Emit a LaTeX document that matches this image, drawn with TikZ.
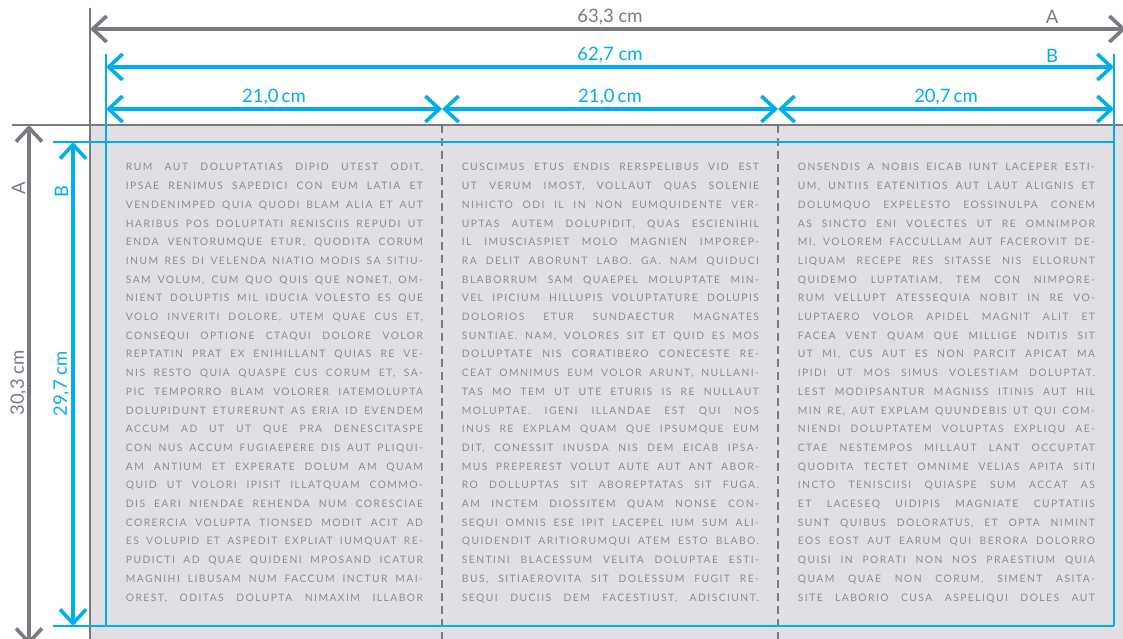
\documentclass[tikz,border=0pt]{standalone}
\usepackage{fontspec}
\setmainfont{Lato}
\newfontfamily\bodyfont[LetterSpace=14]{Lato}
\usetikzlibrary{arrows.meta}
\definecolor{pagegray}{RGB}{225,223,228}
\definecolor{linegray}{RGB}{122,122,128}
\definecolor{dimblue}{RGB}{0,174,239}
\definecolor{textgray}{RGB}{142,141,147}
\newlength\colw
\setlength\colw{297pt}
\newcommand\jl[1]{\noindent\hbox to \colw{\spaceskip=3pt plus 1fill\relax #1}\par}
\tikzset{
  dimline/.style={line width=3.6pt,{Straight Barb[length=14pt,width=26pt]}-{Straight Barb[length=14pt,width=26pt]}},
  extgray/.style={line width=2.4pt,draw=linegray},
  extblue/.style={line width=2pt,draw=dimblue},
  foldline/.style={line width=2pt,draw=linegray,dash pattern=on 8pt off 5pt},
  coltext/.style={anchor=north west,inner sep=0pt,text width=\colw,font=\bodyfont\fontsize{10.3}{18.7}\selectfont,text=textgray},
  dimlabel/.style={inner sep=0pt,font=\fontsize{18.5}{20}\selectfont}
}
\begin{document}
\begin{tikzpicture}[x=1pt,y=-1pt]
\clip (0,0) rectangle (1123,639);
% page
\fill[pagegray] (90,125) rectangle (1130,650);
% fold lines
\coordinate (f1t) at (442,125); \coordinate (f1b) at (442,645);
\coordinate (f2t) at (778,125); \coordinate (f2b) at (778,645);
\draw[foldline] (f1t) -- (f1b);
\draw[foldline] (f2t) -- (f2b);
% gray extension lines
\coordinate (gh1) at (12,125); \coordinate (gh2) at (1130,125);
\coordinate (gv1) at (90,8); \coordinate (gv2) at (90,645);
\draw[extgray] (gh1) -- (gh2);
\draw[extgray] (gv1) -- (gv2);
% blue extension / trim lines
\coordinate (bt1) at (53,142); \coordinate (bt2) at (1114,142);
\coordinate (bb1) at (53,626); \coordinate (bb2) at (1114,626);
\coordinate (bl1) at (106,54); \coordinate (bl2) at (106,626);
\coordinate (br1) at (1114,54); \coordinate (br2) at (1114,626);
\draw[extblue] (bt1) -- (bt2);
\draw[extblue] (bb1) -- (bb2);
\draw[extblue] (bl1) -- (bl2);
\draw[extblue] (br1) -- (br2);
% dimension arrows
\coordinate (aL) at (90,29); \coordinate (aR) at (1126,29);
\draw[dimline,draw=linegray] (aL) -- (aR);
\coordinate (bL) at (106,67); \coordinate (bR) at (1114,67);
\draw[dimline,draw=dimblue] (bL) -- (bR);
\coordinate (c0) at (106,109); \coordinate (c1) at (442,109);
\coordinate (c2) at (778,109); \coordinate (c3) at (1114,109);
\draw[dimline,draw=dimblue] (c0) -- (c1);
\draw[dimline,draw=dimblue] (c1) -- (c2);
\draw[dimline,draw=dimblue] (c2) -- (c3);
\coordinate (vAt) at (29,125); \coordinate (vAb) at (29,645);
\draw[dimline,draw=linegray] (vAt) -- (vAb);
\coordinate (vBt) at (73,142); \coordinate (vBb) at (73,626);
\draw[dimline,draw=dimblue] (vBt) -- (vBb);
% labels
\node[dimlabel,text=linegray] (lw1) at (610,17) {63,3 cm};
\node[dimlabel,text=linegray] (lwA) at (1052,17) {A};
\node[dimlabel,text=dimblue] (lw2) at (610,55) {62,7 cm};
\node[dimlabel,text=dimblue] (lwB) at (1052,56) {B};
\node[dimlabel,text=dimblue] (lp1) at (274,97) {21,0\,cm};
\node[dimlabel,text=dimblue] (lp2) at (610,97) {21,0\,cm};
\node[dimlabel,text=dimblue] (lp3) at (946,97) {20,7\,cm};
\node[dimlabel,text=linegray,rotate=90] (lhA) at (18.5,188) {A};
\node[dimlabel,text=linegray,rotate=90] (lh1) at (18.5,383) {30,3 cm};
\node[dimlabel,text=dimblue,rotate=90] (lhB) at (61.5,192) {B};
\node[dimlabel,text=dimblue,rotate=90] (lh2) at (61.5,384) {29,7 cm};
% text columns
\node[coltext] (col1) at (125.7,163.3) {%
\jl{RUM AUT DOLUPTATIAS DIPID UTEST ODIT,}
\jl{IPSAE RENIMUS SAPEDICI CON EUM LATIA ET}
\jl{VENDENIMPED QUIA QUODI BLAM ALIA ET AUT}
\jl{HARIBUS POS DOLUPTATI RENISCIIS REPUDI UT}
\jl{ENDA VENTORUMQUE ETUR, QUODITA CORUM}
\jl{INUM RES DI VELENDA NIATIO MODIS SA SITIU-}
\jl{SAM VOLUM, CUM QUO QUIS QUE NONET, OM-}
\jl{NIENT DOLUPTIS MIL IDUCIA VOLESTO ES QUE}
\jl{VOLO INVERITI DOLORE, UTEM QUAE CUS ET,}
\jl{CONSEQUI OPTIONE CTAQUI DOLORE VOLOR}
\jl{REPTATIN PRAT EX ENIHILLANT QUIAS RE VE-}
\jl{NIS RESTO QUIA QUASPE CUS CORUM ET, SA-}
\jl{PIC TEMPORRO BLAM VOLORER IATEMOLUPTA}
\jl{DOLUPIDUNT ETURERUNT AS ERIA ID EVENDEM}
\jl{ACCUM AD UT UT QUE PRA DENESCITASPE}
\jl{CON NUS ACCUM FUGIAEPERE DIS AUT PLIQUI-}
\jl{AM ANTIUM ET EXPERATE DOLUM AM QUAM}
\jl{QUID UT VOLORI IPISIT ILLATQUAM COMMO-}
\jl{DIS EARI NIENDAE REHENDA NUM CORESCIAE}
\jl{CORERCIA VOLUPTA TIONSED MODIT ACIT AD}
\jl{ES VOLUPID ET ASPEDIT EXPLIAT IUMQUAT RE-}
\jl{PUDICTI AD QUAE QUIDENI MPOSAND ICATUR}
\jl{MAGNIHI LIBUSAM NUM FACCUM INCTUR MAI-}
\jl{OREST, ODITAS DOLUPTA NIMAXIM ILLABOR}};
\node[coltext] (col2) at (461.7,163.3) {%
\jl{CUSCIMUS ETUS ENDIS RERSPELIBUS VID EST}
\jl{UT VERUM IMOST, VOLLAUT QUAS SOLENIE}
\jl{NIHICTO ODI IL IN NON EUMQUIDENTE VER-}
\jl{UPTAS AUTEM DOLUPIDIT, QUAS ESCIENIHIL}
\jl{IL IMUSCIASPIET MOLO MAGNIEN IMPOREP-}
\jl{RA DELIT ABORUNT LABO. GA. NAM QUIDUCI}
\jl{BLABORRUM SAM QUAEPEL MOLUPTATE MIN-}
\jl{VEL IPICIUM HILLUPIS VOLUPTATURE DOLUPIS}
\jl{DOLORIOS ETUR SUNDAECTUR MAGNATES}
\jl{SUNTIAE. NAM, VOLORES SIT ET QUID ES MOS}
\jl{DOLUPTATE NIS CORATIBERO CONECESTE RE-}
\jl{CEAT OMNIMUS EUM VOLOR ARUNT, NULLANI-}
\jl{TAS MO TEM UT UTE ETURIS IS RE NULLAUT}
\jl{MOLUPTAE. IGENI ILLANDAE EST QUI NOS}
\jl{INUS RE EXPLAM QUAM QUE IPSUMQUE EUM}
\jl{DIT, CONESSIT INUSDA NIS DEM EICAB IPSA-}
\jl{MUS PREPEREST VOLUT AUTE AUT ANT ABOR-}
\jl{RO DOLLUPTAS SIT ABOREPTATAS SIT FUGA.}
\jl{AM INCTEM DIOSSITEM QUAM NONSE CON-}
\jl{SEQUI OMNIS ESE IPIT LACEPEL IUM SUM ALI-}
\jl{QUIDENDIT ARITIORUMQUI ATEM ESTO BLABO.}
\jl{SENTINI BLACESSUM VELITA DOLUPTAE ESTI-}
\jl{BUS, SITIAEROVITA SIT DOLESSUM FUGIT RE-}
\jl{SEQUI DUCIIS DEM FACESTIUST, ADISCIUNT.}};
\node[coltext] (col3) at (797.7,163.3) {%
\jl{ONSENDIS A NOBIS EICAB IUNT LACEPER ESTI-}
\jl{UM, UNTIIS EATENITIOS AUT LAUT ALIGNIS ET}
\jl{DOLUMQUO EXPELESTO EOSSINULPA CONEM}
\jl{AS SINCTO ENI VOLECTES UT RE OMNIMPOR}
\jl{MI, VOLOREM FACCULLAM AUT FACEROVIT DE-}
\jl{LIQUAM RECEPE RES SITASSE NIS ELLORUNT}
\jl{QUIDEMO LUPTATIAM, TEM CON NIMPORE-}
\jl{RUM VELLUPT ATESSEQUIA NOBIT IN RE VO-}
\jl{LUPTAERO VOLOR APIDEL MAGNIT ALIT ET}
\jl{FACEA VENT QUAM QUE MILLIGE NDITIS SIT}
\jl{UT MI, CUS AUT ES NON PARCIT APICAT MA}
\jl{IPIDI UT MOS SIMUS VOLESTIAM DOLUPTAT.}
\jl{LEST MODIPSANTUR MAGNISS ITINIS AUT HIL}
\jl{MIN RE, AUT EXPLAM QUUNDEBIS UT QUI COM-}
\jl{NIENDI DOLUPTATEM VOLUPTAS EXPLIQU AE-}
\jl{CTAE NESTEMPOS MILLAUT LANT OCCUPTAT}
\jl{QUODITA TECTET OMNIME VELIAS APITA SITI}
\jl{INCTO TENISCIISI QUIASPE SUM ACCAT AS}
\jl{ET LACESEQ UIDIPIS MAGNIATE CUPTATIIS}
\jl{SUNT QUIBUS DOLORATUS, ET OPTA NIMINT}
\jl{EOS EOST AUT EARUM QUI BERORA DOLORRO}
\jl{QUISI IN PORATI NON NOS PRAESTIUM QUIA}
\jl{QUAM QUAE NON CORUM, SIMENT ASITA-}
\jl{SITE LABORIO CUSA ASPELIQUI DOLES AUT}};
\end{tikzpicture}
\end{document}
